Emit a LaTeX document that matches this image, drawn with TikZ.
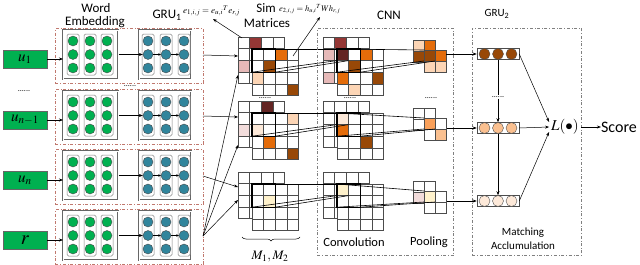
\documentclass[tikz,border=0pt]{standalone}
\usepackage{mathptmx}
\usepackage{fontspec}
\setmainfont{Carlito}
\usetikzlibrary{arrows.meta,decorations.pathreplacing}
\definecolor{mygreen}{HTML}{00B050}
\definecolor{myteal}{HTML}{31859C}
\definecolor{panelc}{HTML}{C0786E}
\definecolor{cdarkred}{HTML}{953735}
\definecolor{cmaroon}{HTML}{632523}
\definecolor{cpink}{HTML}{E6B9B8}
\definecolor{clpink}{HTML}{F2DCDB}
\definecolor{corange}{HTML}{E46C0A}
\definecolor{cbrown}{HTML}{984807}
\definecolor{cpeach}{HTML}{FCD5B5}
\definecolor{clpeach}{HTML}{FDE9D9}
\definecolor{ccream}{HTML}{FFF2CC}
\definecolor{clorange}{HTML}{FAC090}
\definecolor{cmorange}{HTML}{F9A05A}
\newcommand{\myfs}[1]{\fontsize{#1}{#1}\selectfont}
\newcommand{\cs}{11.6}
\newcommand{\mygrid}[5]{%
  \foreach \ii in {1,...,#3}{\foreach \jj in {1,...,#4}{%
    \draw[cellst,fill=white] ({#1+(\ii-1)*#5},{#2+(\jj-1)*#5}) rectangle ++(#5,#5);}}}
\newcommand{\mycell}[6]{\draw[cellst,fill=#6] ({#1+#3*#5},{#2+#4*#5}) rectangle ++(#5,#5);}
\newcommand{\mywin}[3]{\draw[win] (#1,#2) rectangle ++({2*#3},{2*#3});}
\newcommand{\maplines}[2]{%
  \draw[mapline] (252,#1) -- (337,#1);
  \draw[mapline] (252,{#1+2*\cs}) -- (337,{#1+\cs});
  \draw[mapline] ({252+2*\cs},{#1+2*\cs}) -- ({337+\cs},{#1+\cs});
  \draw[mapline] (337,#1) -- (424,#2);
  \draw[mapline] (337,{#1+2*\cs}) -- (424,{#2+11});
  \draw[mapline] ({337+2*\cs},{#1+2*\cs}) -- (435,{#2+11});}
\begin{document}
\begin{tikzpicture}[x=1pt,y=-1pt,
  panel/.style={draw=panelc, dash dot, line width=0.7pt, inner sep=0},
  dashbox/.style={draw=gray, dash dot, line width=0.7pt, inner sep=0},
  dbox/.style={draw=black!60, double=white, double distance=0.7pt, line width=0.5pt, inner sep=0},
  colst/.style={draw=gray, fill=white, rounded corners=1.5pt, line width=0.5pt},
  gcirc/.style={circle, fill=mygreen, draw=black!70, line width=0.4pt, minimum size=10pt, inner sep=0},
  bcirc/.style={gcirc, fill=myteal},
  ucirc/.style={circle, draw=black!70, line width=0.4pt, minimum size=11pt, inner sep=0},
  unitbox/.style={draw=black!70, fill=white, line width=0.5pt, minimum width=42pt, minimum height=11pt, inner sep=0},
  ubox/.style={draw=black!60, fill=mygreen, minimum width=44pt, minimum height=18pt, inner sep=0, line width=0.5pt},
  arr/.style={-{Stealth[length=4pt,width=3pt]}, line width=0.5pt},
  arrs/.style={-{Stealth[length=2.5pt,width=2.5pt]}, line width=0.5pt},
  cellst/.style={draw=black!70, line width=0.5pt},
  win/.style={draw=black, line width=1.1pt},
  mapline/.style={draw=black, line width=0.6pt},
  lbl/.style={inner sep=0},
  dots/.style={inner sep=1pt, font=\myfs{8}}
]
\useasboundingbox (0,0) rectangle (640,265);

% ---- top labels
\node[lbl,font=\myfs{13}] (tword) at (96,8) {Word};
\node[lbl,font=\myfs{13}] (temb) at (95,22) {Embedding};
\node[lbl,font=\myfs{13}] (tgru1) at (167,15) {GRU\textsubscript{1}};
\node[lbl,font=\myfs{9},anchor=west] (eq1) at (183,11) {$e_{1,i,j}=e_{u,i}{}^{T}e_{r,j}$};
\node[lbl,font=\myfs{13}] (tsim) at (266,8) {Sim};
\node[lbl,font=\myfs{13}] (tmat) at (267,23) {Matrices};
\node[lbl,font=\myfs{8.5},anchor=west] (eq2) at (279,9) {$e_{2,i,j}=h_{u,i}{}^{T}Wh_{r,j}$};
\node[lbl,font=\myfs{13}] (tcnn) at (389,15) {CNN};
\node[lbl,font=\myfs{11}] (tgru2) at (497,14) {GRU\textsubscript{2}};

% ---- panels
\foreach \t/\lab/\k/\sz in {28/u_1/1/15, 89/u_{n-1}/2/15, 149/u_n/3/15, 209/r/4/20}{
  \node[panel, anchor=north west, minimum width=148pt, minimum height=55pt] (pan\k) at (55,\t) {};
  \node[dbox, anchor=north west, minimum width=55pt, minimum height=49pt] (emb\k) at (63,\t+2) {};
  \node[dbox, anchor=north west, minimum width=52pt, minimum height=49pt] (gru\k) at (139,\t+2) {};
  \foreach \cx [count=\ci] in {73,90,107}{
    \draw[colst] (\cx-6,\t+6) rectangle (\cx+6,\t+47);
    \foreach \cy [count=\ri] in {13,26.5,40} \node[gcirc] (ec\k-\ci-\ri) at (\cx,\t+\cy) {};
  }
  \foreach \cx [count=\ci] in {148,166,184}{
    \draw[colst] (\cx-6,\t+6) rectangle (\cx+6,\t+47);
    \foreach \cy [count=\ri] in {13,26.5,40} \node[bcirc] (gc\k-\ci-\ri) at (\cx,\t+\cy) {};
  }
  \node[ubox,font=\myfs{\sz}] (u\k) at (25,\t+31) {$\lab$};
  \draw[arr] (u\k.east) -- (u\k.east -| emb\k.west);
  \draw[arr] (emb\k.east |- gc\k-1-2) -- (gc\k-1-2.west);
  \draw[arrs] (gc\k-1-2.east) -- (gc\k-2-2.west);
  \draw[arrs] (gc\k-2-2.east) -- (gc\k-3-2.west);
  \coordinate (po\k) at (203,\t+27);
}
\node[dots] (udots) at (24,91) {......};
\node[dots] (gdots) at (130,86) {......};

% ---- row 1
\mygrid{238}{37}{4}{4}{\cs}
\mycell{238}{37}{1}{0}{\cs}{cdarkred}
\mycell{238}{37}{0}{2}{\cs}{cpink}
\mygrid{252}{49}{4}{4}{\cs}
\mycell{252}{49}{2}{0}{\cs}{corange}
\mycell{252}{49}{1}{1}{\cs}{cbrown}
\mycell{252}{49}{0}{2}{\cs}{cpeach}
\mycell{252}{49}{3}{3}{\cs}{cbrown}
\mywin{252}{49}{\cs}
\mygrid{323}{37}{4}{4}{\cs}
\mycell{323}{37}{1}{0}{\cs}{cdarkred}
\mycell{323}{37}{0}{1}{\cs}{cpink}
\mycell{323}{37}{0}{3}{\cs}{cpink}
\mygrid{337}{49}{4}{4}{\cs}
\mycell{337}{49}{0}{0}{\cs}{cmaroon}
\mycell{337}{49}{2}{0}{\cs}{corange}
\mycell{337}{49}{1}{1}{\cs}{cbrown}
\mycell{337}{49}{0}{2}{\cs}{corange}
\mycell{337}{49}{3}{2}{\cs}{cbrown}
\mycell{337}{49}{1}{3}{\cs}{cpeach}
\mywin{337}{49}{\cs}
\mygrid{413}{40}{2}{2}{11}
\mycell{413}{40}{0}{0}{11}{cpeach}
\mycell{413}{40}{1}{0}{11}{corange}
\mycell{413}{40}{0}{1}{11}{cbrown}
\mygrid{424}{50}{2}{2}{11}
\mycell{424}{50}{0}{0}{11}{cbrown}
\mycell{424}{50}{1}{0}{11}{corange}
\mycell{424}{50}{0}{1}{11}{cpeach}
\mycell{424}{50}{1}{1}{11}{cpeach}
\maplines{49}{50}

% ---- row 2
\mygrid{238}{101}{4}{4}{\cs}
\mycell{238}{101}{2}{0}{\cs}{cmaroon}
\mycell{238}{101}{0}{2}{\cs}{clpink}
\mygrid{252}{113}{4}{4}{\cs}
\mycell{252}{113}{3}{0}{\cs}{cpeach}
\mycell{252}{113}{0}{1}{\cs}{clpeach}
\mycell{252}{113}{1}{2}{\cs}{corange}
\mycell{252}{113}{3}{3}{\cs}{cbrown}
\mywin{252}{113}{\cs}
\mygrid{323}{101}{4}{4}{\cs}
\mygrid{337}{113}{4}{4}{\cs}
\mycell{337}{113}{0}{0}{\cs}{clpeach}
\mycell{337}{113}{0}{1}{\cs}{corange}
\mycell{337}{113}{2}{2}{\cs}{cbrown}
\mywin{337}{113}{\cs}
\mygrid{413}{108}{2}{2}{11}
\mygrid{424}{118}{2}{2}{11}
\mycell{424}{118}{0}{0}{11}{cmorange}
\mycell{424}{118}{1}{1}{11}{clorange}
\maplines{113}{118}

% ---- row 3
\mygrid{238}{172}{4}{4}{\cs}
\mygrid{252}{184}{4}{4}{\cs}
\mycell{252}{184}{1}{1}{\cs}{ccream}
\mywin{252}{184}{\cs}
\mygrid{323}{172}{4}{4}{\cs}
\mygrid{337}{184}{4}{4}{\cs}
\mycell{337}{184}{0}{0}{\cs}{ccream}
\mywin{337}{184}{\cs}
\mygrid{413}{181}{2}{2}{11}
\mycell{413}{181}{0}{1}{11}{clpink}
\mygrid{424}{191}{2}{2}{11}
\mycell{424}{191}{0}{0}{11}{ccream}
\maplines{184}{191}

\node[dots] (sdots) at (265,98) {......};
\node[dots] (cdots) at (350,98) {......};
\node[dots] (pdots) at (431,98) {......};

% ---- inputs to sim matrices
\coordinate (s1a) at (238,56);
\coordinate (s2a) at (238,117);
\coordinate (s3a) at (238,187);
\coordinate (s1b) at (238,75);
\coordinate (s2b) at (238,145);
\coordinate (s3b) at (238,200);
\draw[arr] (po1) -- (s1a);
\draw[arr] (po2) -- (s2a);
\draw[arr] (po3) -- (s3a);
\draw[arr] (po4) -- (s1b);
\draw[arr] (po4) -- (s2b);
\draw[arr] (po4) -- (s3b);

% ---- formula arrows
\coordinate (eq1tip) at (213,19);
\coordinate (eq1src) at (242,38);
\coordinate (eq2tip) at (320,17);
\coordinate (eq2src) at (293,56);
\draw[arr] (eq1src) -- (eq1tip);
\draw[arr] (eq2src) -- (eq2tip);

% ---- brace and bottom labels
\draw[decorate, decoration={brace, amplitude=4pt, mirror}, line width=0.5pt] (242,237) -- (300,237);
\node[lbl,font=\myfs{13}] (mlab) at (270,257) {$M_1,M_2$};
\node[lbl,font=\myfs{12.5}] (tconv) at (354,242) {Convolution};
\node[lbl,font=\myfs{12.5}] (tpool) at (429,242) {Pooling};

% ---- CNN and GRU2 boxes
\node[dashbox, anchor=north west, minimum width=136pt, minimum height=227pt] (cnnbox) at (317,28) {};
\node[dashbox, anchor=north west, minimum width=109pt, minimum height=227pt] (gru2box) at (472,28) {};

% ---- GRU2 units
\foreach \yy/\col/\nm in {54/cbrown/a, 128/clorange/b, 201/clpeach/c}{
  \node[unitbox] (g2\nm) at (498,\yy) {};
  \foreach \cx [count=\ci] in {484.5,498,511.5} \node[ucirc, fill=\col] (g2\nm\ci) at (\cx,\yy) {};
}
\coordinate (p1out) at (446,54);
\coordinate (p2out) at (447,128);
\coordinate (p3out) at (447,201);
\draw[arr] (p1out) -- (g2a.west);
\draw[arr] (p2out) -- (g2b.west);
\draw[arr] (p3out) -- (g2c.west);
\node[dots] (g2dots) at (498,97) {......};
\draw[mapline] (g2a.south) -- (g2dots.north);
\draw[arr] (g2dots.south) -- (g2b.north);
\draw[arr] (g2b.south) -- (g2c.north);

\node[lbl,font=\myfs{15}] (L) at (565,127) {$L(\bullet)$};
\node[lbl,font=\myfs{16}] (score) at (619,127) {Score};
\draw[arr] (g2a.east) -- ([yshift=5pt,xshift=-2pt]L.west);
\draw[arr] (g2b.east) -- ([xshift=-2pt]L.west);
\draw[arr] (g2c.east) -- ([yshift=-5pt,xshift=-2pt]L.west);
\draw[arr] ([xshift=2pt]L.east) -- (score.west);

\node[lbl,font=\myfs{11}] (tmatch) at (523,233) {Matching};
\node[lbl,font=\myfs{11}] (tacc) at (523,246) {Acclumulation};
\end{tikzpicture}
\end{document}
